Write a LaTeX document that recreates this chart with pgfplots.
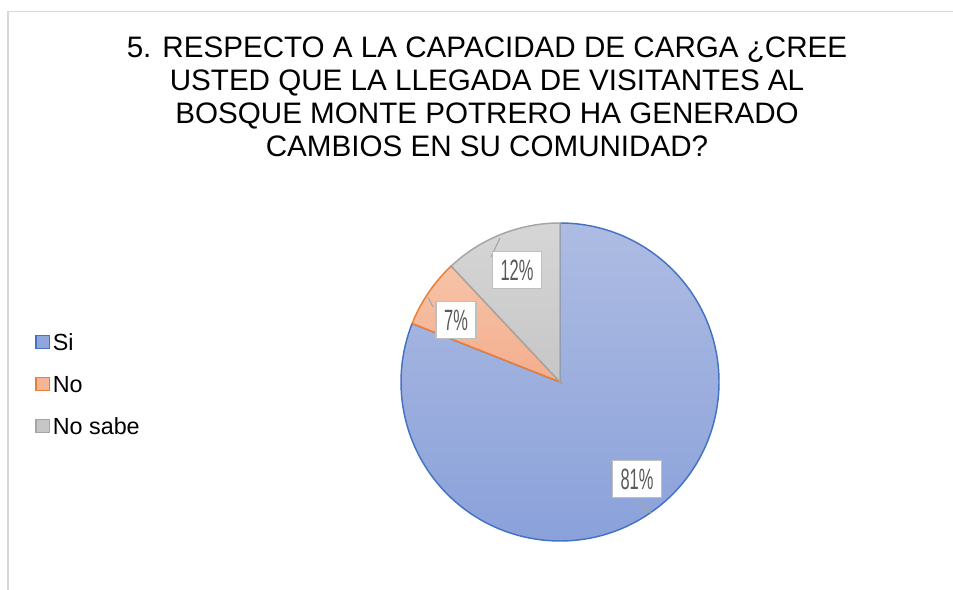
\documentclass[border=0pt]{standalone}
\usepackage{pgfplots}
\pgfplotsset{compat=1.18}
\usepackage{pgfplotstable}
\usepackage{fontspec}
\setmainfont{Liberation Sans}
\newfontfamily\labfont[FakeStretch=0.56]{Liberation Sans}

\definecolor{framegray}{HTML}{D9D9D9}
\definecolor{siedge}{HTML}{4472C4}
\definecolor{sitop}{HTML}{AEBCE2}
\definecolor{sibot}{HTML}{8AA1DA}
\definecolor{noedge}{HTML}{ED7D31}
\definecolor{notop}{HTML}{F7C3A8}
\definecolor{nobot}{HTML}{F3AE8D}
\definecolor{nsedge}{HTML}{A5A5A5}
\definecolor{nstop}{HTML}{D6D6D6}
\definecolor{nsbot}{HTML}{C6C6C6}
\definecolor{labgray}{HTML}{595959}
\definecolor{boxgray}{HTML}{BFBFBF}

% share of each answer, in percent
\pgfplotstableread{
cat    value
Si     81
No     7
NoSabe 12
}\piedata

\begin{document}
\begin{tikzpicture}[x=0.75pt,y=0.75pt]
\pgfplotstablegetelem{0}{value}\of\piedata \let\vSi\pgfplotsretval
\pgfplotstablegetelem{1}{value}\of\piedata \let\vNo\pgfplotsretval
\pgfplotstablegetelem{2}{value}\of\piedata \let\vNs\pgfplotsretval
\pgfmathsetmacro\aSi{90-3.6*\vSi}
\pgfmathsetmacro\aNo{\aSi-3.6*\vNo}
\pgfmathsetmacro\aNs{\aNo-3.6*\vNs}
\def\R{119.25pt}

\path[use as bounding box] (0,0) rectangle (953,589);
\draw[framegray, line width=1.2pt] (8,-10) -- (8,577.5) -- (970,577.5);

\foreach \t/\yy in {{5. RESPECTO A LA CAPACIDAD DE CARGA ¿CREE}/58,
                   {USTED QUE LA LLEGADA DE VISITANTES AL}/91,
                   {BOSQUE MONTE POTRERO HA GENERADO}/124,
                   {CAMBIOS EN SU COMUNIDAD?}/157}
  \node[anchor=base, inner sep=0pt, font=\fontsize{22.2}{26}\selectfont] at (487,589-\yy) {\t};

\begin{axis}[
    at={(0,0)}, anchor=south west,
    scale only axis,
    width=714.75pt, height=441.75pt,
    xmin=0, xmax=953, ymin=0, ymax=589,
    hide axis, clip=false,
    legend image code/.code={
        \draw[#1, line width=1pt] (0pt,-5pt) rectangle (10pt,5pt);
        \path (12pt,0pt);},
    legend cell align=left,
    legend style={
        at={(axis description cs:0.0367,0.3480)}, anchor=west,
        draw=none, fill=none, inner sep=0pt,
        row sep=17pt,
        font=\fontsize{17.5}{20}\selectfont,
        nodes={inner xsep=0.5pt, inner ysep=1pt, text height=12.5pt, text depth=0pt},
    },
]
\addlegendimage{draw=siedge, fill=sibot!80!sitop}
\addlegendentry{Si}
\addlegendimage{draw=noedge, fill=nobot!70!notop}
\addlegendentry{No}
\addlegendimage{draw=nsedge, fill=nsbot}
\addlegendentry{No sabe}

% slices, clockwise from 12 o'clock
\path[draw=siedge, line width=1.1pt, top color=sitop, bottom color=sibot]
  (axis cs:560,207) -- ++(90:\R) arc[start angle=90, end angle=\aSi, radius=\R] -- cycle;
\path[draw=noedge, line width=1.1pt, top color=notop, bottom color=nobot]
  (axis cs:560,207) -- ++(\aSi:\R) arc[start angle=\aSi, end angle=\aNo, radius=\R] -- cycle;
\path[draw=nsedge, line width=1.1pt, top color=nstop, bottom color=nsbot]
  (axis cs:560,207) -- ++(\aNo:\R) arc[start angle=\aNo, end angle=\aNs, radius=\R] -- cycle;

% leader lines
\draw[nsedge, line width=0.8pt] (axis cs:491,332) -- (axis cs:500,351);
\draw[nsedge, line width=0.8pt] (axis cs:433,282) -- (axis cs:428,292);
\draw[nsedge, line width=0.8pt] (axis cs:610,121) -- (axis cs:651,76);

% data labels
\tikzset{lab/.style={draw=boxgray, line width=1.1pt, fill=white, text=labgray,
    font=\labfont\fontsize{22}{24}\selectfont, inner xsep=6pt, inner ysep=6pt}}
\node[lab] at (axis cs:517,319) {12\%};
\node[lab] at (axis cs:456,269) {7\%};
\node[lab] at (axis cs:637,110) {81\%};
\end{axis}
\end{tikzpicture}
\end{document}
